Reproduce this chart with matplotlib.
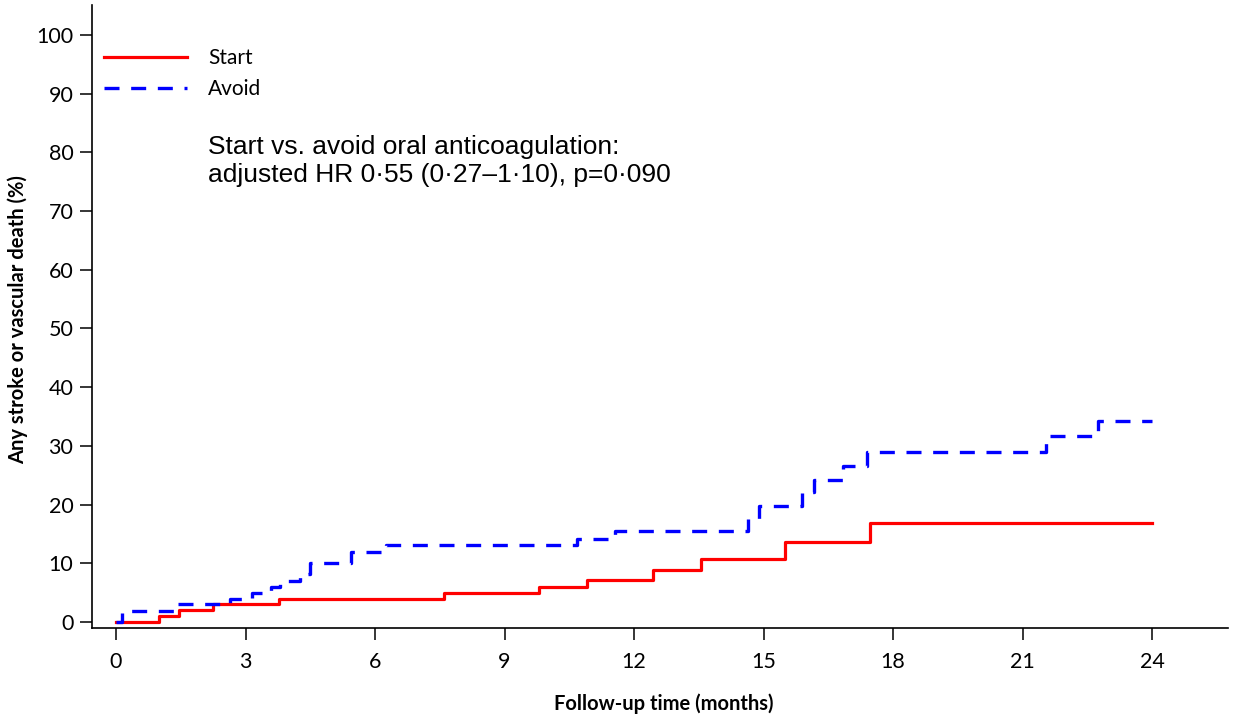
import numpy as np
import matplotlib.pyplot as plt

# Kaplan-Meier style cumulative incidence
start_t = [0, 1.0, 1.47, 2.24, 3.78, 7.6, 9.8, 10.9, 12.45, 13.56, 15.5, 17.47, 24]
start_y = [0, 1.0, 2.0, 3.0, 4.0, 5.0, 6.0, 7.15, 8.9, 10.8, 13.6, 16.9, 16.9]

avoid_t = [0, 0.15, 1.35, 2.64, 3.14, 3.6, 3.8, 4.26, 4.5, 5.44, 6.25, 10.67,
           11.56, 14.65, 14.9, 15.9, 16.17, 16.85, 17.4, 21.54, 22.75, 24]
avoid_y = [0, 1.9, 3.0, 4.0, 4.9, 6.0, 7.0, 8.1, 10.0, 11.9, 13.1, 14.1,
           15.5, 17.5, 19.7, 22.2, 24.2, 26.6, 29.0, 31.7, 34.2, 34.2]

x_ticks = np.arange(0, 25, 3)
y_ticks = np.arange(0, 101, 10)

note = "Start vs. avoid oral anticoagulation:\nadjusted HR 0\u00b755 (0\u00b727\u20131\u00b710), p=0\u00b7090"

fig = plt.figure(figsize=(12.39, 7.19), dpi=100)
W, H = 1239, 719
ax = fig.add_axes([92 / W, 1 - 628 / H, (1228 - 92) / W, (628 - 5) / H])

ax.step(start_t, start_y, where='post', color='#ff0000', lw=2.3, label='Start')
ax.step(avoid_t, avoid_y, where='post', color='#0000ff', lw=2.4,
        dashes=(4.5, 3.5), label='Avoid')

ax.set_xlim(-0.556, 25.76)
ax.set_ylim(-1.02, 105.1)
ax.set_xticks(x_ticks)
ax.set_yticks(y_ticks)

for s in ['top', 'right']:
  ax.spines[s].set_visible(False)
for s in ['left', 'bottom']:
  ax.spines[s].set_linewidth(1.2)

ax.tick_params(axis='both', direction='out', length=8.5, width=1.1,
               labelsize=15.5, colors='black')
ax.tick_params(axis='y', pad=5)
ax.tick_params(axis='x', pad=9)
for lab in ax.get_xticklabels() + ax.get_yticklabels():
  lab.set_fontfamily('Lato')

fig.text(18 / W, 1 - 320 / H, 'Any stroke or vascular death (%)', rotation=90,
         ha='center', va='center', fontsize=14.5, fontweight='bold', family='Lato')
fig.text(664 / W, 1 - 704 / H, 'Follow-up time (months)', ha='center',
         va='center', fontsize=14.5, fontweight='bold', family='Lato')

leg = ax.legend(loc='upper left', bbox_to_anchor=(104 / W, 1 - 48 / H),
                bbox_transform=fig.transFigure, frameon=False, borderpad=0,
                borderaxespad=0, handlelength=4.0, handletextpad=1.0,
                labelspacing=0.55, prop={'family': 'Lato', 'size': 15})

fig.text(208 / W, 1 - 135 / H, note, ha='left', va='top', fontsize=19,
         family='Liberation Sans', linespacing=1.2)

fig.savefig('out.png', dpi=100)
